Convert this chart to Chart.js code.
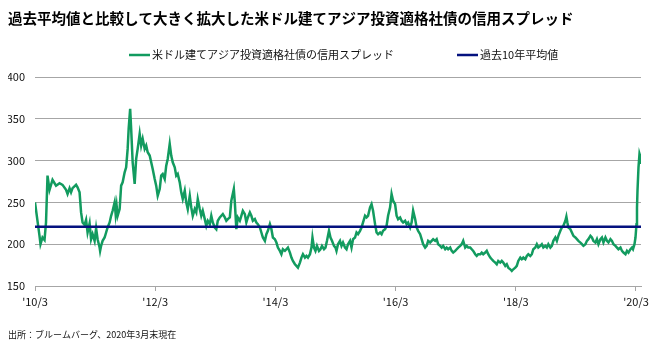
<!DOCTYPE html>
<html><head><meta charset="utf-8">
<script src="https://cdn.jsdelivr.net/npm/chart.js@4"></script>
<style>html,body{margin:0;padding:0;background:#fff}#wrap{width:657px;height:351px;position:relative}canvas{display:block}</style>
</head><body><div id="wrap"><canvas id="c" width="657" height="351"></canvas></div>
<script>
const titleText = '過去平均値と比較して大きく拡大した米ドル建てアジア投資適格社債の信用スプレッド';
const seriesLabel = '米ドル建てアジア投資適格社債の信用スプレッド';
const avgLabel = '過去10年平均値';
const footerText = '出所：ブルームバーグ、2020年3月末現在';

// x tick positions (months since Mar 2010) and their labels
const tickMonths = [0, 24, 48, 72, 96, 120];
const tickLabels = ["'10/3", "'12/3", "'14/3", "'16/3", "'18/3", "'20/3"];
const yTicks = [150, 200, 250, 300, 350, 400];

// months since Mar 2010
const months = [
0.0,0.9,1.1,1.5,1.9,2.2,2.5,2.9,3.5,4.2,4.9,5.5,6.2,6.5,6.9,7.2,7.5,8.2,8.5,8.9,9.2,9.5,9.9,10.2,10.5,10.9,11.2,11.5,11.9,12.2,12.5,12.9,13.0,13.2,13.5,13.9,14.2,14.5,14.9,15.2,15.5,15.9,16.1,16.3,16.5,16.9,17.2,17.5,17.9,18.2,18.5,18.7,19.0,
19.2,19.5,19.9,20.2,20.5,20.9,21.2,21.5,21.9,22.2,22.5,22.9,23.2,23.5,23.9,24.2,24.5,24.9,25.2,25.5,25.9,26.2,26.5,26.9,27.2,27.5,27.9,28.2,28.5,28.9,29.2,29.5,29.9,30.2,30.5,30.9,31.2,31.5,31.9,32.2,32.5,32.9,33.2,33.5,33.9,34.2,34.5,34.9,35.2,35.5,35.9,36.2,36.5,36.9,37.2,37.5,37.9,38.2,38.5,38.9,
39.2,39.7,39.9,40.2,40.5,40.9,41.2,41.5,41.9,42.2,42.5,42.9,43.2,43.5,43.9,44.2,44.5,44.9,45.2,45.5,45.9,46.2,46.5,46.9,47.2,47.5,47.9,48.2,48.5,48.9,49.2,49.5,49.9,50.2,50.5,50.9,51.2,51.5,51.9,52.2,52.5,52.9,53.2,53.5,53.9,54.2,54.5,54.9,55.2,55.4,55.7,56.0,56.3,56.7,57.0,57.3,57.7,58.0,58.3,58.7,59.0,59.3,59.7,60.0,
60.2,60.5,60.9,61.2,61.5,61.9,62.2,62.5,62.9,63.2,63.5,63.9,64.2,64.5,64.9,65.2,65.5,65.9,66.2,66.5,66.9,67.2,67.5,67.9,68.2,68.5,68.9,69.2,69.5,69.9,70.2,70.5,70.9,71.2,71.5,71.9,72.2,72.5,72.9,73.2,73.5,73.9,74.2,74.5,74.9,75.2,75.5,75.9,76.2,76.5,76.9,77.2,77.5,77.9,78.2,78.5,78.9,79.2,79.5,79.9,80.2,80.5,
80.9,81.2,81.5,81.9,82.2,82.5,82.9,83.2,83.5,83.9,84.2,84.5,84.9,85.2,85.5,85.9,86.2,86.5,86.9,87.2,87.5,87.9,88.2,88.5,88.9,89.2,89.5,89.9,90.2,90.5,90.9,91.2,91.5,91.9,92.2,92.5,92.9,93.2,93.5,93.9,94.2,94.5,94.9,95.2,95.5,95.9,96.2,96.5,96.9,97.2,97.5,97.9,98.2,98.5,98.9,99.2,99.5,99.9,100.2,100.5,
100.9,101.2,101.5,101.9,102.2,102.5,102.9,103.2,103.5,103.9,104.2,104.5,104.9,105.2,105.5,105.9,106.1,106.3,106.5,106.9,107.2,107.5,107.9,108.2,108.5,108.9,109.2,109.5,109.9,110.2,110.5,110.9,111.2,111.5,111.9,112.2,112.5,112.9,113.2,113.5,113.9,114.2,114.5,114.9,115.2,115.5,115.9,116.2,116.5,116.9,117.2,117.5,117.9,118.2,118.5,118.9,119.2,119.4,119.7,119.9,120.1,120.2,120.3,120.5,120.7,120.8,120.9,121.0
];
// spread (bp)
const spread = [
250,210,200,208,205,226,282,265,277,270,273,271,265,260,267,262,267,271,268,262,238,226,223,229,214,225,206,212,204,219,206,196,192,198,204,208,214,220,226,234,240,250,236,246,234,242,270,274,286,292,314,338,362,
338,298,272,302,314,332,318,326,314,318,310,306,298,290,278,270,258,266,282,284,278,294,302,320,306,298,292,282,284,274,262,254,264,250,242,258,244,234,242,238,254,242,234,240,230,222,228,224,234,226,220,218,228,232,234,236,232,228,230,232,
252,266,250,218,232,228,234,240,236,226,232,238,234,228,230,226,224,220,214,208,204,212,216,224,218,208,206,202,196,192,188,194,192,194,196,190,184,180,176,174,172,178,184,188,184,186,184,188,196,208,196,192,198,192,194,198,194,196,204,216,208,204,198,196,
192,200,204,198,202,196,194,200,204,196,206,208,214,212,216,220,226,234,232,234,244,248,240,224,214,212,214,212,216,218,222,234,244,260,252,248,234,230,232,228,226,228,224,226,220,226,240,230,220,216,212,206,200,196,198,204,202,204,206,204,206,200,
198,196,198,194,196,194,196,192,190,192,194,196,198,200,204,196,198,196,196,194,192,188,186,188,188,190,188,190,192,188,184,182,180,178,176,180,178,180,178,174,176,172,170,168,170,172,174,180,184,182,184,182,186,188,186,188,194,196,200,196,
198,200,196,198,196,200,196,198,204,208,204,210,216,220,222,228,233,226,220,218,214,210,208,206,204,202,200,198,200,204,206,210,208,204,202,206,200,206,208,202,208,204,202,206,204,200,198,196,194,196,192,190,188,192,190,194,196,194,200,208,224,244,264,292,308,306,296,302
];
const avgMonths = [0, 121];
const avgValues = [221, 221];

const green = '#129b5f';
const navy = '#04127f';

Chart.defaults.font.family = "'Noto Sans CJK JP','Noto Sans',sans-serif";

const overlay = {
  id: 'overlay',
  afterDraw(chart) {
    const ctx = chart.ctx;
    ctx.save();
    ctx.textBaseline = 'middle';
    ctx.textAlign = 'left';
    ctx.fillStyle = '#000';
    ctx.font = "bold 14.5px 'Noto Sans CJK JP'";
    ctx.fillText(titleText, 8, 18);
    const ds = chart.data.datasets;
    const legendItems = [{d: ds[0], x: 129}, {d: ds[1], x: 457}];
    ctx.font = "11px 'Noto Sans CJK JP'";
    legendItems.forEach(it => {
      ctx.strokeStyle = it.d.borderColor;
      ctx.lineWidth = 2.5;
      ctx.beginPath();
      ctx.moveTo(it.x, 55);
      ctx.lineTo(it.x + 21, 55);
      ctx.stroke();
      ctx.fillStyle = '#111';
      ctx.fillText(it.d.label, it.x + 23, 55);
    });
    ctx.font = "9px 'Noto Sans CJK JP'";
    ctx.fillStyle = '#111';
    ctx.fillText(footerText, 8, 335);
    ctx.restore();
  }
};

new Chart(document.getElementById('c'), {
  type: 'line',
  data: {
    datasets: [
      {
        label: seriesLabel,
        data: months.map((m, i) => ({x: m, y: spread[i]})),
        borderColor: green,
        borderWidth: 2.5,
        pointRadius: 0,
        tension: 0,
        order: 1
      },
      {
        label: avgLabel,
        data: avgMonths.map((m, i) => ({x: m, y: avgValues[i]})),
        borderColor: navy,
        borderWidth: 2.5,
        pointRadius: 0,
        tension: 0,
        order: 0
      }
    ]
  },
  options: {
    responsive: false,
    animation: false,
    devicePixelRatio: 1,
    layout: {padding: {top: 77, left: 8, right: 16, bottom: 35}},
    plugins: {legend: {display: false}, title: {display: false}, tooltip: {enabled: false}},
    scales: {
      x: {
        type: 'linear',
        min: 0,
        max: 121,
        afterBuildTicks: s => { s.ticks = tickMonths.map(v => ({value: v})); },
        afterFit: s => { s.height = 30; },
        grid: {drawOnChartArea: false, drawTicks: true, tickLength: 5, color: '#a6a6a6'},
        border: {display: true, color: '#a6a6a6', width: 1},
        ticks: {
          autoSkip: false, maxRotation: 0, padding: 4, color: '#111', font: {size: 11},
          callback: v => tickLabels[tickMonths.indexOf(v)]
        }
      },
      y: {
        min: 150,
        max: 400,
        afterBuildTicks: s => { s.ticks = yTicks.map(v => ({value: v})); },
        afterFit: s => { s.width = 27; },
        grid: {drawTicks: false, color: '#a6a6a6', lineWidth: 1},
        border: {display: false},
        ticks: {padding: 10, color: '#111', font: {size: 11}}
      }
    }
  },
  plugins: [overlay]
});
</script>
</body></html>
